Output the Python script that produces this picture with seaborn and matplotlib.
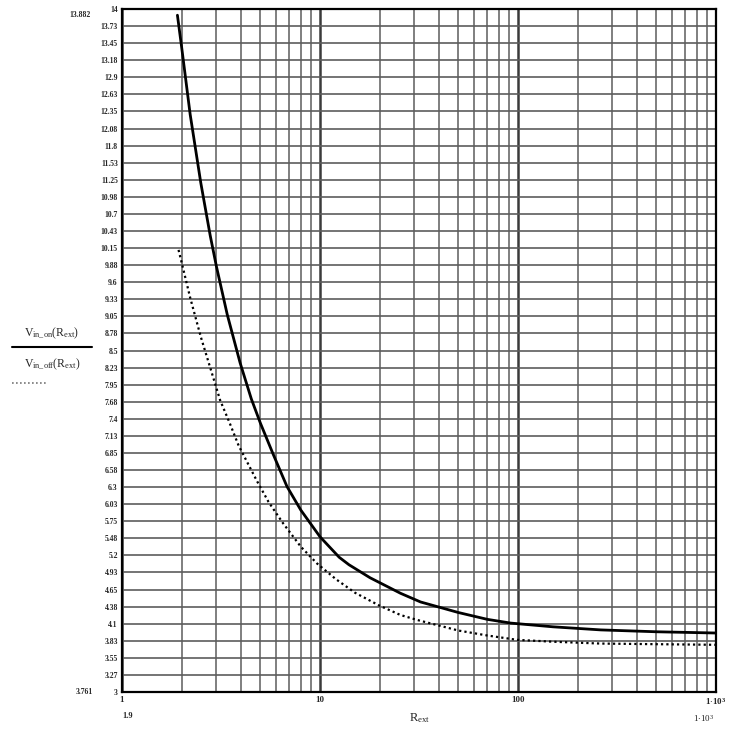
import numpy as np
import pandas as pd
import seaborn as sns
import matplotlib
matplotlib.use('Agg')
import matplotlib.pyplot as plt

# values
r_on = [1.905, 2.0, 2.21, 2.5, 2.79, 3.0, 3.4, 3.95, 4.5, 5.0, 5.8, 6.81, 8.0, 10.0, 12.5, 14.0,
        17.9, 25.5, 32.2, 50.0, 70.0, 91.8, 150.0, 262.0, 500.0, 1000.0]
v_on = [13.90, 13.39, 12.30, 11.20, 10.35, 9.85, 9.08, 8.30, 7.72, 7.33, 6.83, 6.31, 5.93, 5.50,
        5.17, 5.05, 4.84, 4.59, 4.45, 4.28, 4.17, 4.11, 4.05, 4.00, 3.97, 3.95]

r_off = [1.93, 2.0, 2.21, 2.5, 2.95, 3.13, 3.5, 3.88, 4.8, 5.5, 6.5, 8.0, 9.66, 12.0, 15.0, 20.0,
         25.5, 31.0, 50.0, 70.0, 99.0, 150.0, 262.0, 500.0, 1000.0]
v_off = [10.12, 9.92, 9.35, 8.72, 7.97, 7.70, 7.33, 6.97, 6.40, 6.06, 5.72, 5.34, 5.07, 4.82,
         4.60, 4.39, 4.24, 4.16, 3.99, 3.91, 3.84, 3.81, 3.78, 3.77, 3.76]

ytick_vals = np.linspace(3, 14, 41)
ytick_labels = ["3", "3.27", "3.55", "3.83", "4.1", "4.38", "4.65", "4.93", "5.2", "5.48", "5.75",
                "6.03", "6.3", "6.58", "6.85", "7.13", "7.4", "7.68", "7.95", "8.23", "8.5", "8.78",
                "9.05", "9.33", "9.6", "9.88", "10.15", "10.43", "10.7", "10.98", "11.25", "11.53",
                "11.8", "12.08", "12.35", "12.63", "12.9", "13.18", "13.45", "13.73", "14"]
xtick_vals = [1, 10, 100, 1000]
xtick_labels = ["1", "10", "100", r"$\mathregular{1{\cdot}10^3}$"]

on_df = pd.DataFrame({'R_ext': r_on, 'V': v_on})
off_df = pd.DataFrame({'R_ext': r_off, 'V': v_off})

sns.set_style('white')
plt.rcParams['font.family'] = ['Liberation Serif', 'DejaVu Serif']
plt.rcParams['mathtext.fontset'] = 'stix'

fig = plt.figure(figsize=(7.31, 7.30), dpi=100)
ax = fig.add_axes([122/731, 38/730, 594/731, 683/730])
ax.set_xscale('log')
ax.set_xlim(1, 1000)
ax.set_ylim(3, 14)

#grid like the mathcad plot
ax.set_xticks(xtick_vals)
ax.set_xticks([m*10**d for d in range(3) for m in range(2, 10)], minor=True)
ax.set_yticks(ytick_vals)
ax.grid(which='major', axis='x', color='#3a3a3a', lw=1.8)
ax.grid(which='minor', axis='x', color='#5c5c5c', lw=1.1)
ax.grid(which='major', axis='y', color='#5c5c5c', lw=1.2)
ax.set_axisbelow(True)

sns.lineplot(data=on_df, x='R_ext', y='V', ax=ax, color='black', lw=2.0, estimator=None, sort=True)
sns.lineplot(data=off_df, x='R_ext', y='V', ax=ax, color='black', lw=1.6, estimator=None, sort=True,
             linestyle=(0, (1, 1.4)))

ax.set_yticklabels(ytick_labels, fontsize=5.5, fontweight='bold')
ax.set_xticklabels(xtick_labels, fontsize=6.5, fontweight='bold')
ax.tick_params(which='both', length=0, pad=3)
ax.set_xlabel('')
ax.set_ylabel('')
for s in ax.spines.values():
    s.set_color('black')
    s.set_linewidth(1.6)

# mathcad range and trace labels
fig.text(80/731, 1 - 15/730, '13.882', fontsize=5.5, fontweight='bold', ha='center', va='center')
fig.text(84/731, 1 - 692/730, '3.761', fontsize=5.5, fontweight='bold', ha='center', va='center')
fig.text(128/731, 1 - 716/730, '1.9', fontsize=6, fontweight='bold', ha='center', va='center')
fig.text(704/731, 1 - 718/730, r'$\mathregular{1{\cdot}10^3}$', fontsize=6.5, ha='center', va='center')
fig.text(420/731, 1 - 718/730, r'$\mathregular{R_{ext}}$', fontsize=9, ha='center', va='center')
fig.text(52/731, 1 - 333/730, r'$\mathregular{V_{in\_on}(R_{ext})}$', fontsize=8.5, ha='center', va='center')
fig.add_artist(plt.Line2D([12/731, 92/731], [1 - 347/730, 1 - 347/730], color='black', lw=1.5))
fig.text(52/731, 1 - 364/730, r'$\mathregular{V_{in\_off}(R_{ext})}$', fontsize=8.5, ha='center', va='center')
fig.add_artist(plt.Line2D([12/731, 46/731], [1 - 383/730, 1 - 383/730], color='#777777', lw=1.2,
                          linestyle=(0, (1, 1.4))))

fig.savefig('out.png', dpi=100)
